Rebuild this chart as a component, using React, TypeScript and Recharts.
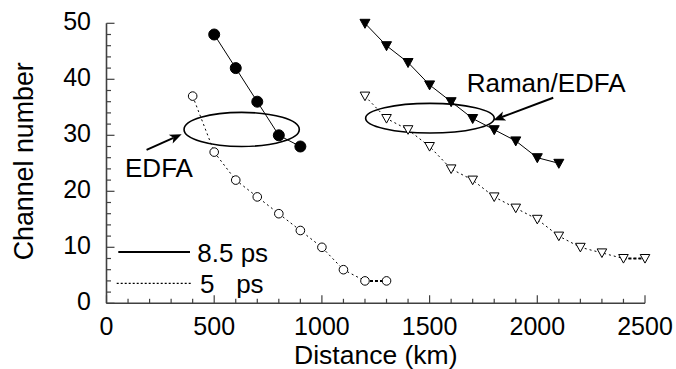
import React from 'react';
import {
  LineChart,
  Line,
  XAxis,
  YAxis,
  ReferenceArea,
  ReferenceLine,
  ReferenceDot,
  Legend,
  Label,
} from 'recharts';

const FONT = '"Liberation Sans", Arial, Helvetica, sans-serif';
const FRAME = '#404040';

// ---- data ----
const edfa85Dist = [500, 600, 700, 800, 900];
const edfa85Ch = [48, 42, 36, 30, 28];

const edfa5Dist = [400, 500, 600, 700, 800, 900, 1000, 1100, 1200, 1300];
const edfa5Ch = [37, 27, 22, 19, 16, 13, 10, 6, 4, 4];

const raman85Dist = [1200, 1300, 1400, 1500, 1600, 1700, 1800, 1900, 2000, 2100];
const raman85Ch = [50, 46, 43, 39, 36, 33, 31, 29, 26, 25];

const raman5Dist = [1200, 1300, 1400, 1500, 1600, 1700, 1800, 1900, 2000, 2100, 2200, 2300, 2400, 2500];
const raman5Ch = [37, 33, 31, 28, 24, 22, 19, 17, 15, 12, 10, 9, 8, 8];

// ---- ticks ----
const xTicks = [0, 100, 200, 300, 400, 500, 600, 700, 800, 900, 1000, 1100, 1200, 1300, 1400, 1500, 1600, 1700, 1800, 1900, 2000, 2100, 2200, 2300, 2400, 2500];
const xMajor = [0, 500, 1000, 1500, 2000, 2500];
const yTicks = [0, 2, 4, 6, 8, 10, 12, 14, 16, 18, 20, 22, 24, 26, 28, 30, 32, 34, 36, 38, 40, 42, 44, 46, 48, 50];
const yMajor = [0, 10, 20, 30, 40, 50];

const seriesNames = ['8.5 ps', '5   ps'];

const toPts = (xs: number[], ys: number[]) => xs.map((x, i) => ({ x, y: ys[i] }));

const MAJOR_LEN = 8;
const MINOR_LEN = 4.5;

const BottomTick = (p: any) => {
  const { x, y, payload } = p;
  const v = payload.value;
  const major = xMajor.includes(v);
  return (
    <g>
      <line x1={x} x2={x} y1={y} y2={y - (major ? MAJOR_LEN : MINOR_LEN)} stroke={FRAME} strokeWidth={1.2} />
      {major && (
        <text x={x} y={y + 31.7} textAnchor="middle" fontSize={25} fontFamily={FONT} fill="#000">
          {v}
        </text>
      )}
    </g>
  );
};

const TopTick = (p: any) => {
  const { x, y, payload } = p;
  const major = xMajor.includes(payload.value);
  return <line x1={x} x2={x} y1={y} y2={y + (major ? MAJOR_LEN : MINOR_LEN)} stroke={FRAME} strokeWidth={1.2} />;
};

const LeftTick = (p: any) => {
  const { x, y, payload } = p;
  const v = payload.value;
  const major = yMajor.includes(v);
  return (
    <g>
      <line x1={x} x2={x + (major ? MAJOR_LEN : MINOR_LEN)} y1={y} y2={y} stroke={FRAME} strokeWidth={1.2} />
      {major && (
        <text x={x - 15.5} y={y + 7} textAnchor="end" fontSize={25} fontFamily={FONT} fill="#000">
          {v}
        </text>
      )}
    </g>
  );
};

const RightTick = (p: any) => {
  const { x, y, payload } = p;
  const major = yMajor.includes(payload.value);
  return <line x1={x} x2={x - (major ? MAJOR_LEN : MINOR_LEN)} y1={y} y2={y} stroke={FRAME} strokeWidth={1.2} />;
};

const FilledCircle = (p: any) => (
  <circle key={`fc-${p.index}`} cx={p.cx} cy={p.cy} r={5.5} fill="#000" stroke="#000" />
);
const OpenCircle = (p: any) => (
  <circle key={`oc-${p.index}`} cx={p.cx} cy={p.cy} r={4.3} fill="#fff" stroke="#000" strokeWidth={1} />
);
const FilledTri = (p: any) => (
  <path
    key={`ft-${p.index}`}
    d={`M${p.cx - 5},${p.cy - 4} L${p.cx + 5},${p.cy - 4} L${p.cx},${p.cy + 5} Z`}
    fill="#000"
    stroke="#000"
  />
);
const OpenTri = (p: any) => (
  <path
    key={`ot-${p.index}`}
    d={`M${p.cx - 4.8},${p.cy - 4} L${p.cx + 4.8},${p.cy - 4} L${p.cx},${p.cy + 4.6} Z`}
    fill="#fff"
    stroke="#000"
    strokeWidth={1}
  />
);

const EllipseShape = (p: any) => {
  const { x, y, width, height } = p;
  return (
    <ellipse
      cx={x + width / 2}
      cy={y + height / 2}
      rx={Math.abs(width) / 2}
      ry={Math.abs(height) / 2}
      fill="none"
      stroke="#000"
      strokeWidth={1.6}
    />
  );
};

const ArrowShape = (p: any) => {
  const { x1, y1, x2, y2 } = p;
  const dx = x2 - x1;
  const dy = y2 - y1;
  const L = Math.hypot(dx, dy) || 1;
  const ux = dx / L;
  const uy = dy / L;
  const hl = 12;
  const hw = 4.8;
  const bx = x2 - ux * hl;
  const by = y2 - uy * hl;
  const nx = bx + ux * 3;
  const ny = by + uy * 3;
  const pts = `${x2},${y2} ${bx - uy * hw},${by + ux * hw} ${nx},${ny} ${bx + uy * hw},${by - ux * hw}`;
  return (
    <g>
      <line x1={x1} y1={y1} x2={nx} y2={ny} stroke="#000" strokeWidth={2} />
      <polygon points={pts} fill="#000" />
    </g>
  );
};

const textShape = (txt: string) => (p: any) => (
  <text x={p.cx} y={p.cy} fontSize={26} fontFamily={FONT} fill="#000">
    {txt}
  </text>
);

const LegendBox = (props: any) => {
  const payload = (props.payload || [])
    .filter((e: any) => seriesNames.includes(e.value))
    .sort((a: any, b: any) => seriesNames.indexOf(a.value) - seriesNames.indexOf(b.value));
  return (
    <svg width={180} height={70} style={{ display: 'block', overflow: 'visible' }}>
      {payload.map((e: any, i: number) => {
        const dashed = i > 0;
        const cy = i === 0 ? 22 : 53.3;
        return (
          <g key={i}>
            <line
              x1={dashed ? 6.7 : 8.3}
              x2={dashed ? 81.7 : 80}
              y1={cy}
              y2={cy}
              stroke="#000"
              strokeWidth={dashed ? 1.2 : 2.2}
              strokeDasharray={dashed ? '2 2' : undefined}
            />
            <text
              x={dashed ? 90 : 87.3}
              y={cy + 9.5}
              fontSize={26}
              fontFamily={FONT}
              fill="#000"
              style={{ whiteSpace: 'pre' }}
            >
              {e.value}
            </text>
          </g>
        );
      })}
    </svg>
  );
};

export default function App() {
  return (
    <div style={{ position: 'absolute', left: 0, top: 0, width: 676, height: 369, background: '#fff', fontFamily: FONT }}>
      <LineChart width={676} height={369} margin={{ top: 23.3, right: 31, bottom: 0, left: 0 }}>
        <XAxis
          xAxisId={0}
          dataKey="x"
          type="number"
          domain={[0, 2500]}
          ticks={xTicks}
          interval={0}
          tickSize={0}
          tickMargin={0}
          tickLine={false}
          tick={<BottomTick />}
          axisLine={{ stroke: FRAME, strokeWidth: 1.6 }}
          height={65.7}
        >
          <Label
            content={(p: any) => {
              const vb = p.viewBox || {};
              return (
                <text x={vb.x + vb.width / 2} y={vb.y + 60.5} textAnchor="middle" fontSize={26.5} fontFamily={FONT} fill="#000">
                  Distance (km)
                </text>
              );
            }}
          />
        </XAxis>
        <XAxis
          xAxisId="top"
          orientation="top"
          dataKey="x"
          type="number"
          domain={[0, 2500]}
          ticks={xTicks}
          interval={0}
          tickSize={0}
          tickMargin={0}
          tickLine={false}
          tick={<TopTick />}
          axisLine={{ stroke: FRAME, strokeWidth: 1.6 }}
          height={0}
        />
        <YAxis
          yAxisId={0}
          type="number"
          domain={[0, 50]}
          ticks={yTicks}
          interval={0}
          tickSize={0}
          tickMargin={0}
          tickLine={false}
          tick={<LeftTick />}
          axisLine={{ stroke: FRAME, strokeWidth: 1.6 }}
          width={106.5}
        >
          <Label
            content={(p: any) => {
              const vb = p.viewBox || {};
              const cx = 33.5;
              const cy = vb.y + vb.height / 2 - 2;
              return (
                <text
                  x={cx}
                  y={cy}
                  transform={`rotate(-90, ${cx}, ${cy})`}
                  textAnchor="middle"
                  fontSize={26.8}
                  fontFamily={FONT}
                  fill="#000"
                >
                  Channel number
                </text>
              );
            }}
          />
        </YAxis>
        <YAxis
          yAxisId="right"
          orientation="right"
          type="number"
          domain={[0, 50]}
          ticks={yTicks}
          interval={0}
          tickSize={0}
          tickMargin={0}
          tickLine={false}
          tick={<RightTick />}
          axisLine={{ stroke: FRAME, strokeWidth: 1.6 }}
          width={0}
        />

        <ReferenceArea x1={360} x2={895} y1={28} y2={34.1} shape={<EllipseShape />} ifOverflow="visible" />
        <ReferenceArea x1={1203} x2={1800} y1={30.4} y2={35.7} shape={<EllipseShape />} ifOverflow="visible" />

        <ReferenceLine
          segment={[{ x: 186, y: 27.4 }, { x: 349, y: 30.2 }]}
          shape={(p: any) => <ArrowShape {...p} />}
          ifOverflow="visible"
        />
        <ReferenceLine
          segment={[{ x: 2074, y: 36.7 }, { x: 1796, y: 32.7 }]}
          shape={(p: any) => <ArrowShape {...p} />}
          ifOverflow="visible"
        />

        <ReferenceDot x={86} y={22.6} r={0} shape={textShape('EDFA')} ifOverflow="visible" />
        <ReferenceDot x={1672} y={37.8} r={0} shape={textShape('Raman/EDFA')} ifOverflow="visible" />

        <Line
          data={toPts(edfa5Dist.slice(-2), edfa5Ch.slice(-2))}
          dataKey="y"
          stroke="#000"
          strokeWidth={2}
          strokeDasharray="3 2"
          dot={false}
          legendType="none"
          isAnimationActive={false}
        />
        <Line
          data={toPts(raman5Dist.slice(-2), raman5Ch.slice(-2))}
          dataKey="y"
          stroke="#000"
          strokeWidth={2}
          strokeDasharray="3 2"
          dot={false}
          legendType="none"
          isAnimationActive={false}
        />

        <Line
          data={toPts(edfa85Dist, edfa85Ch)}
          dataKey="y"
          name="edfa85"
          stroke="#000"
          strokeWidth={1}
          dot={FilledCircle}
          legendType="none"
          isAnimationActive={false}
        />
        <Line
          data={toPts(edfa5Dist, edfa5Ch)}
          dataKey="y"
          name="edfa5"
          stroke="#000"
          strokeWidth={1}
          strokeDasharray="2 3"
          dot={OpenCircle}
          legendType="none"
          isAnimationActive={false}
        />
        <Line
          data={toPts(raman85Dist, raman85Ch)}
          dataKey="y"
          name={seriesNames[0]}
          stroke="#000"
          strokeWidth={1}
          dot={FilledTri}
          isAnimationActive={false}
        />
        <Line
          data={toPts(raman5Dist, raman5Ch)}
          dataKey="y"
          name={seriesNames[1]}
          stroke="#000"
          strokeWidth={1}
          strokeDasharray="2 3"
          dot={OpenTri}
          isAnimationActive={false}
        />

        <Legend
          layout="vertical"
          align="center"
          verticalAlign="middle"
          wrapperStyle={{ left: 110, top: 230, width: 180, height: 70 }}
          content={(p: any) => <LegendBox {...p} />}
        />
      </LineChart>
    </div>
  );
}
